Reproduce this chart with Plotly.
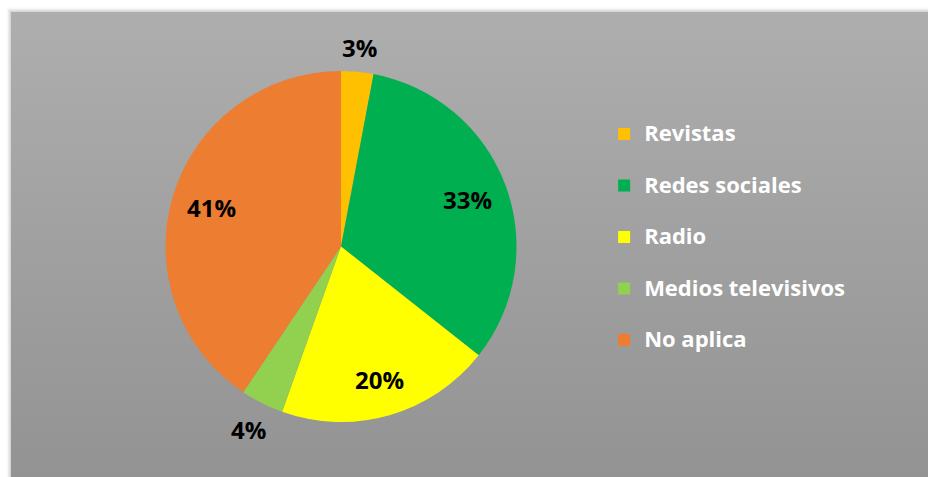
import math
import plotly.graph_objects as go

# Data
categories = ["Revistas", "Redes sociales", "Radio", "Medios televisivos", "No aplica"]
values = [3, 33, 20, 4, 41]
colors = ["#FFC000", "#00B050", "#FFFF00", "#92D050", "#ED7D31"]

# label placement per slice: distance from the centre as a fraction of the radius
label_radius = [1.14, 0.77, 0.79, 1.17, 0.77]

W, H = 928, 477
box_left, box_top = 11, 12  # chart frame inside the page (px)

fig = go.Figure()

# soft drop shadow around the chart frame
for off, alpha in [(4.5, 0.025), (3.0, 0.05), (1.5, 0.09)]:
    fig.add_trace(go.Scatter(
        x=[box_left - off, W, W, box_left - off, box_left - off],
        y=[0, 0, H - box_top + off, H - box_top + off, 0],
        fill="toself", mode="lines", line=dict(width=0),
        fillcolor=f"rgba(0,0,0,{alpha})", hoverinfo="skip", showlegend=False,
    ))

# gray gradient chart frame
fig.add_trace(go.Scatter(
    x=[box_left, W, W, box_left, box_left],
    y=[0, 0, H - box_top, H - box_top, 0],
    fill="toself", mode="lines", line=dict(width=0),
    fillgradient=dict(type="vertical",
                      colorscale=[[0, "#939393"], [1, "#aeaeae"]]),
    hoverinfo="skip", showlegend=False,
))

# legend entries: first line is the label, the second (empty) line sets row spacing
legend_labels = [f"<span style='font-size:22px'>{c}</span><br> " for c in categories]

cx, cy, r = 341, 246.5, 175.5
fig.add_trace(go.Pie(
    labels=legend_labels,
    values=values,
    sort=False,
    direction="clockwise",
    rotation=0,
    marker=dict(colors=colors, line=dict(width=0)),
    textinfo="none",
    domain=dict(x=[(cx - r) / W, (cx + r) / W],
                y=[(H - cy - r) / H, (H - cy + r) / H]),
    hoverinfo="label+percent",
))

# percentage labels at the middle angle of each slice
total = sum(values)
start = 0.0
for v, k in zip(values, label_radius):
    mid = (start + v / 2) / total * 2 * math.pi
    start += v
    px = cx + k * r * math.sin(mid)
    py = cy - k * r * math.cos(mid)
    fig.add_annotation(
        x=px / W, y=1 - py / H, xref="paper", yref="paper",
        xanchor="center", yanchor="middle",
        text=f"{round(v / total * 100)}%", showarrow=False,
        font=dict(family="Open Sans", size=24, color="black", weight="bold"),
    )

fig.update_layout(
    width=W, height=H,
    margin=dict(l=0, r=0, t=0, b=0),
    paper_bgcolor="white",
    plot_bgcolor="rgba(0,0,0,0)",
    xaxis=dict(range=[0, W], visible=False, fixedrange=True),
    yaxis=dict(range=[0, H], visible=False, fixedrange=True),
    showlegend=True,
    legend=dict(
        x=0.651, xanchor="left",
        y=0.758, yanchor="top",
        valign="top",
        bgcolor="rgba(0,0,0,0)",
        font=dict(family="Open Sans", size=18.65, color="white", weight="bold"),
    ),
)

fig.write_html("out.html")
